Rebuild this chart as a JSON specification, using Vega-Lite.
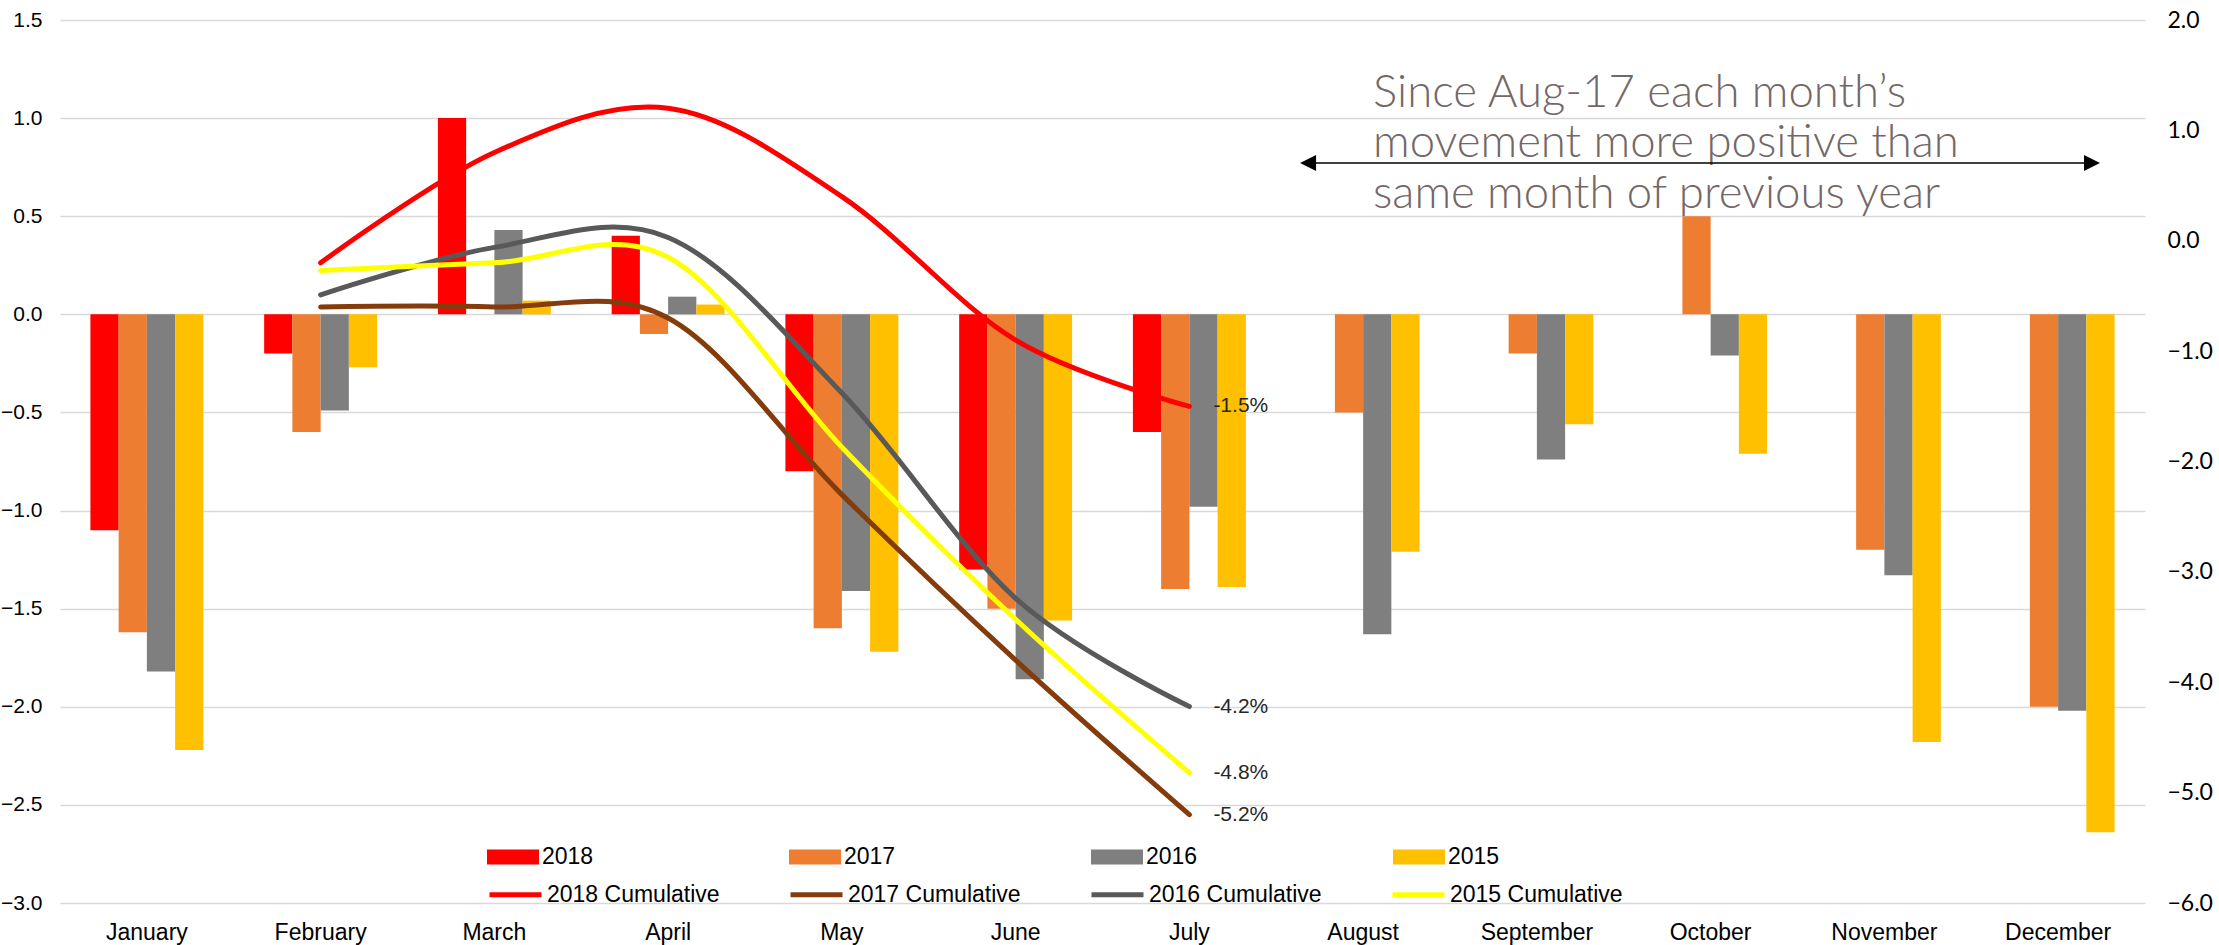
{
  "$schema": "https://vega.github.io/schema/vega-lite/v6.json",
  "width": 2085,
  "height": 883,
  "autosize": {"type": "none"},
  "padding": {"left": 60, "top": 20, "right": 74, "bottom": 42},
  "background": "white",
  "config": {
    "view": {"stroke": null},
    "font": "Liberation Sans",
    "axis": {"labelFont": "Liberation Sans", "labelColor": "#000000"},
    "legend": {"labelFont": "Liberation Sans", "labelColor": "#000000"}
  },
  "datasets": {
    "bars": [
      {"month": "January", "year": "2018", "value": -1.1},
      {"month": "January", "year": "2017", "value": -1.62},
      {"month": "January", "year": "2016", "value": -1.82},
      {"month": "January", "year": "2015", "value": -2.22},
      {"month": "February", "year": "2018", "value": -0.2},
      {"month": "February", "year": "2017", "value": -0.6},
      {"month": "February", "year": "2016", "value": -0.49},
      {"month": "February", "year": "2015", "value": -0.27},
      {"month": "March", "year": "2018", "value": 1.0},
      {"month": "March", "year": "2017", "value": 0.0},
      {"month": "March", "year": "2016", "value": 0.43},
      {"month": "March", "year": "2015", "value": 0.07},
      {"month": "April", "year": "2018", "value": 0.4},
      {"month": "April", "year": "2017", "value": -0.1},
      {"month": "April", "year": "2016", "value": 0.09},
      {"month": "April", "year": "2015", "value": 0.05},
      {"month": "May", "year": "2018", "value": -0.8},
      {"month": "May", "year": "2017", "value": -1.6},
      {"month": "May", "year": "2016", "value": -1.41},
      {"month": "May", "year": "2015", "value": -1.72},
      {"month": "June", "year": "2018", "value": -1.3},
      {"month": "June", "year": "2017", "value": -1.5},
      {"month": "June", "year": "2016", "value": -1.86},
      {"month": "June", "year": "2015", "value": -1.56},
      {"month": "July", "year": "2018", "value": -0.6},
      {"month": "July", "year": "2017", "value": -1.4},
      {"month": "July", "year": "2016", "value": -0.98},
      {"month": "July", "year": "2015", "value": -1.39},
      {"month": "August", "year": "2017", "value": -0.5},
      {"month": "August", "year": "2016", "value": -1.63},
      {"month": "August", "year": "2015", "value": -1.21},
      {"month": "September", "year": "2017", "value": -0.2},
      {"month": "September", "year": "2016", "value": -0.74},
      {"month": "September", "year": "2015", "value": -0.56},
      {"month": "October", "year": "2017", "value": 0.5},
      {"month": "October", "year": "2016", "value": -0.21},
      {"month": "October", "year": "2015", "value": -0.71},
      {"month": "November", "year": "2017", "value": -1.2},
      {"month": "November", "year": "2016", "value": -1.33},
      {"month": "November", "year": "2015", "value": -2.18},
      {"month": "December", "year": "2017", "value": -2.0},
      {"month": "December", "year": "2016", "value": -2.02},
      {"month": "December", "year": "2015", "value": -2.64}
    ],
    "cum": [
      {"month": "February", "series": "2018 Cumulative", "value": -0.2},
      {"month": "March", "series": "2018 Cumulative", "value": 0.8},
      {"month": "April", "series": "2018 Cumulative", "value": 1.2},
      {"month": "May", "series": "2018 Cumulative", "value": 0.4},
      {"month": "June", "series": "2018 Cumulative", "value": -0.9},
      {"month": "July", "series": "2018 Cumulative", "value": -1.5},
      {"month": "February", "series": "2017 Cumulative", "value": -0.6},
      {"month": "March", "series": "2017 Cumulative", "value": -0.6},
      {"month": "April", "series": "2017 Cumulative", "value": -0.7},
      {"month": "May", "series": "2017 Cumulative", "value": -2.3},
      {"month": "June", "series": "2017 Cumulative", "value": -3.8},
      {"month": "July", "series": "2017 Cumulative", "value": -5.2},
      {"month": "February", "series": "2016 Cumulative", "value": -0.49},
      {"month": "March", "series": "2016 Cumulative", "value": -0.06},
      {"month": "April", "series": "2016 Cumulative", "value": 0.03},
      {"month": "May", "series": "2016 Cumulative", "value": -1.38},
      {"month": "June", "series": "2016 Cumulative", "value": -3.24},
      {"month": "July", "series": "2016 Cumulative", "value": -4.22},
      {"month": "February", "series": "2015 Cumulative", "value": -0.27},
      {"month": "March", "series": "2015 Cumulative", "value": -0.2},
      {"month": "April", "series": "2015 Cumulative", "value": -0.15},
      {"month": "May", "series": "2015 Cumulative", "value": -1.87},
      {"month": "June", "series": "2015 Cumulative", "value": -3.43},
      {"month": "July", "series": "2015 Cumulative", "value": -4.82}
    ],
    "endlabels": [
      {"month": "July", "series": "2018 Cumulative", "value": -1.5, "label": "-1.5%"},
      {"month": "July", "series": "2016 Cumulative", "value": -4.22, "label": "-4.2%"},
      {"month": "July", "series": "2015 Cumulative", "value": -4.82, "label": "-4.8%"},
      {"month": "July", "series": "2017 Cumulative", "value": -5.2, "label": "-5.2%"}
    ]
  },
  "layer": [
    {
      "layer": [
        {
          "data": {"name": "bars"},
          "mark": {"type": "bar"},
          "encoding": {
            "x": {
              "field": "month", "type": "nominal",
              "sort": ["January","February","March","April","May","June","July","August","September","October","November","December"],
              "scale": {"domain": ["January","February","March","April","May","June","July","August","September","October","November","December"], "paddingInner": 0.35, "paddingOuter": 0.175},
              "axis": {"title": null, "ticks": false, "domain": false, "grid": false, "labelAngle": 0, "labelFontSize": 23, "labelPadding": 18}
            },
            "xOffset": {
              "field": "year", "type": "nominal",
              "sort": ["2018","2017","2016","2015"],
              "scale": {"domain": ["2018","2017","2016","2015"], "paddingInner": 0, "paddingOuter": 0}
            },
            "y": {
              "field": "value", "type": "quantitative",
              "scale": {"domain": [-3, 1.5], "nice": false, "zero": false},
              "axis": {"orient": "left", "title": null, "values": [-3,-2.5,-2,-1.5,-1,-0.5,0,0.5,1,1.5], "format": ".1f", "grid": true, "gridColor": "#d9d9d9", "gridWidth": 1.6, "domain": false, "ticks": false, "labelFontSize": 21, "labelPadding": 18}
            },
            "fill": {
              "field": "year", "type": "nominal",
              "sort": ["2018","2017","2016","2015"],
              "scale": {"domain": ["2018","2017","2016","2015"], "range": ["#ff0000","#ed7d31","#7f7f7f","#ffc000"]},
              "legend": {"orient": "none", "legendX": 427, "legendY": 811, "direction": "horizontal", "columns": 4, "columnPadding": 195, "title": null, "symbolType": "M-1,-0.29H1V0.29H-1Z", "symbolSize": 2704, "symbolStrokeWidth": 0, "labelFontSize": 23, "labelOffset": 3, "labelLimit": 400}
            }
          }
        },
        {
          "layer": [
            {
              "data": {"name": "cum"},
              "mark": {"type": "line", "interpolate": "cardinal", "strokeWidth": 5, "strokeCap": "round", "strokeJoin": "round"},
              "encoding": {
                "x": {"field": "month", "type": "nominal", "sort": ["January","February","March","April","May","June","July","August","September","October","November","December"]},
                "y": {
                  "field": "value", "type": "quantitative",
                  "scale": {"domain": [-6, 2], "nice": false, "zero": false},
                  "axis": {"orient": "right", "title": null, "values": [-6,-5,-4,-3,-2,-1,0,1,2], "format": ".1f", "grid": false, "domain": false, "ticks": false, "labelFont": "Lato", "labelFontSize": 23, "labelPadding": 22}
                },
                "stroke": {
                  "field": "series", "type": "nominal",
                  "sort": ["2018 Cumulative","2017 Cumulative","2016 Cumulative","2015 Cumulative"],
                  "scale": {"domain": ["2018 Cumulative","2017 Cumulative","2016 Cumulative","2015 Cumulative"], "range": ["#ff0000","#843c0c","#595959","#ffff00"]},
                  "legend": {"orient": "none", "legendX": 427, "legendY": 846, "direction": "horizontal", "columns": 4, "columnPadding": 60, "title": null, "symbolType": "stroke", "symbolSize": 2704, "symbolStrokeWidth": 5, "labelFontSize": 23, "labelOffset": 3, "labelLimit": 400}
                }
              }
            },
            {
              "data": {"name": "endlabels"},
              "mark": {"type": "text", "align": "left", "baseline": "middle", "dx": 24, "fontSize": 21, "color": "#262626"},
              "encoding": {
                "x": {"field": "month", "type": "nominal", "sort": ["January","February","March","April","May","June","July","August","September","October","November","December"]},
                "y": {"field": "value", "type": "quantitative"},
                "text": {"field": "label"}
              }
            }
          ]
        }
      ],
      "resolve": {"scale": {"y": "independent"}}
    },
    {
      "data": {"values": [{}]},
      "layer": [
        {
          "mark": {"type": "text", "text": ["Since Aug-17 each month’s", "movement more positive than", "same month of previous year"], "align": "left", "baseline": "alphabetic", "font": "Lato", "fontWeight": 300, "fontSize": 45.5, "lineHeight": 50.5, "color": "#746767"},
          "encoding": {
            "x": {"datum": 7.557, "type": "quantitative", "scale": {"domain": [0, 12], "nice": false, "zero": false}, "axis": null},
            "y": {"datum": 1.057, "type": "quantitative", "scale": {"domain": [-3, 1.5], "nice": false, "zero": false}, "axis": null}
          }
        },
        {
          "mark": {"type": "rule", "color": "#000000", "strokeWidth": 1.5},
          "encoding": {
            "x": {"datum": 7.183, "type": "quantitative"},
            "x2": {"datum": 11.695},
            "y": {"datum": 0.771, "type": "quantitative"}
          }
        },
        {
          "mark": {"type": "point", "shape": "M1,-1L-1,0L1,1Z", "filled": true, "color": "#000000", "opacity": 1, "size": 256},
          "encoding": {
            "x": {"datum": 7.183, "type": "quantitative"},
            "y": {"datum": 0.771, "type": "quantitative"}
          }
        },
        {
          "mark": {"type": "point", "shape": "M-1,-1L1,0L-1,1Z", "filled": true, "color": "#000000", "opacity": 1, "size": 256},
          "encoding": {
            "x": {"datum": 11.695, "type": "quantitative"},
            "y": {"datum": 0.771, "type": "quantitative"}
          }
        }
      ]
    }
  ],
  "resolve": {"scale": {"x": "independent", "y": "independent"}}
}
